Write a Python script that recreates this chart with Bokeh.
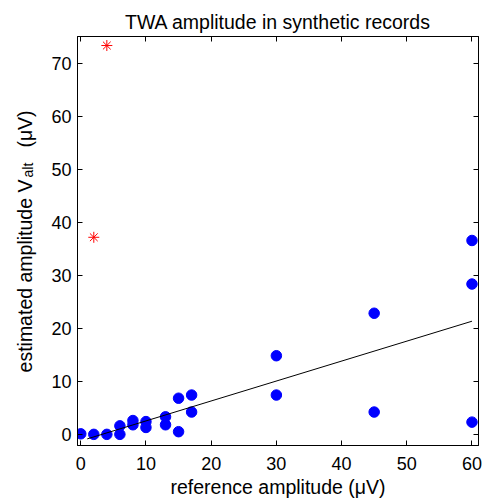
import numpy as np
from bokeh.plotting import figure
from bokeh.layouts import row
from bokeh.models import Range1d, LinearAxis, FixedTicker, ColumnDataSource
from bokeh.core.properties import value
from bokeh.embed import file_html
from bokeh.resources import INLINE

# reference amplitude vs estimated amplitude (µV)
ref_amp = [0, 2, 4, 6, 6, 8, 8, 10, 10, 13, 13, 15, 15, 17, 17, 30, 30, 45, 45, 60, 60, 60]
est_amp = [0.2, 0.1, 0.1, 0.1, 1.7, 2.7, 1.9, 2.5, 1.4, 3.4, 1.9, 6.9, 0.6, 7.5, 4.3,
           14.9, 7.5, 22.9, 4.3, 36.6, 28.4, 2.4]
# outliers (red asterisks)
out_ref = [2, 4]
out_est = [37.2, 73.3]
# regression line endpoints
fit_x = [1, 60]
fit_y = [-0.75, 21.4]

x_ticks = [0, 10, 20, 30, 40, 50, 60]
y_ticks = [0, 10, 20, 30, 40, 50, 60, 70]

# y-axis label pieces (text with subscript)
ylab_text = ["estimated amplitude V", "alt", "(\u03bcV)"]
ylab_size = ["19.5px", "14px", "19.5px"]

FONT = "Liberation Sans"
LEFT_W = 44
H = 500
TOP, BOTTOM = 36, 55   # frame borders shared by both panels

# ---- narrow panel carrying the y-axis label (pixel coordinates, origin bottom-left) ----
lab = figure(width=LEFT_W, height=H, output_backend="svg", toolbar_location=None,
             x_range=Range1d(0, LEFT_W), y_range=Range1d(BOTTOM, H - TOP),
             x_axis_type=None, y_axis_type=None,
             min_border_left=0, min_border_right=0,
             min_border_top=TOP, min_border_bottom=BOTTOM,
             background_fill_color="white", border_fill_color="white")
lab.xgrid.visible = False
lab.ygrid.visible = False
lab.outline_line_color = None
# centres of each piece (x from left, y from bottom of the panel)
src = ColumnDataSource(dict(x=[24.5, 27.5, 24.5], y=[H - 275.5, H - 169.6, H - 128.5],
                            text=ylab_text, size=ylab_size))
lab.text(x="x", y="y", text="text", source=src, angle=np.pi / 2,
         text_align="center", text_baseline="middle",
         text_font=value(FONT), text_font_size="size", text_color="black")

# ---- main plot ----
p = figure(width=484 - LEFT_W, height=H, output_backend="svg", toolbar_location=None,
           x_range=Range1d(-0.5, 61), y_range=Range1d(-2, 75),
           min_border_left=77 - LEFT_W, min_border_right=6,
           min_border_top=TOP, min_border_bottom=BOTTOM,
           background_fill_color="white", border_fill_color="white")
p.xgrid.visible = False
p.ygrid.visible = False
p.outline_line_color = "black"
p.outline_line_width = 1

p.title.text = "TWA amplitude in synthetic records"
p.title.align = "center"
p.title.text_font = FONT
p.title.text_font_size = "19.5px"
p.title.text_font_style = "normal"
p.title.text_color = "black"
p.title.standoff = 8


def style(ax, ticks, show_labels=True, standoff=6):
    ax.ticker = FixedTicker(ticks=ticks)
    ax.major_tick_in = 5
    ax.major_tick_out = 0
    ax.minor_tick_line_color = None
    ax.axis_line_color = "black"
    ax.axis_line_width = 1
    ax.major_tick_line_color = "black"
    ax.major_label_text_font = FONT
    ax.major_label_text_color = "black"
    if show_labels:
        ax.major_label_text_font_size = "18px"
        ax.major_label_standoff = standoff
    else:
        ax.major_label_text_font_size = "1px"
        ax.major_label_text_alpha = 0
        ax.major_label_standoff = 0


style(p.xaxis[0], x_ticks, True, 11)
style(p.yaxis[0], y_ticks, True, 6)
p.xaxis[0].axis_label = "reference amplitude (\u03bcV)"
p.xaxis[0].axis_label_text_font = FONT
p.xaxis[0].axis_label_text_font_size = "19.5px"
p.xaxis[0].axis_label_text_font_style = "normal"
p.xaxis[0].axis_label_text_color = "black"
p.xaxis[0].axis_label_standoff = 3

top = LinearAxis()
style(top, x_ticks, False)
right = LinearAxis()
style(right, y_ticks, False)
p.add_layout(top, "above")
p.add_layout(right, "right")

p.scatter(ref_amp, est_amp, size=10.5, fill_color="#0000ff", line_color="#0000ff")
p.scatter(out_ref, out_est, marker="asterisk", size=11, line_color="#ff0000", line_width=1)
p.line(fit_x, fit_y, line_color="black", line_width=1)

layout = row(lab, p, spacing=0)
open("out.html", "w").write(file_html(layout, INLINE))
